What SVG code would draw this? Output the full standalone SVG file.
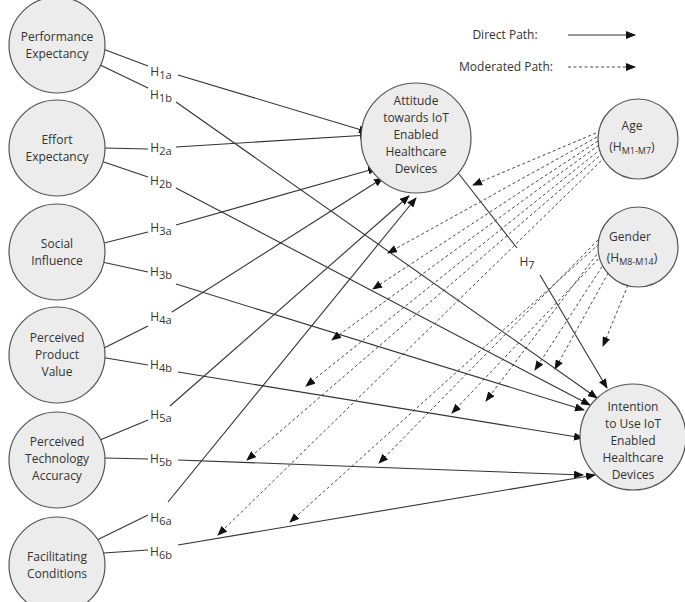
<svg xmlns="http://www.w3.org/2000/svg" width="685" height="602" viewBox="0 0 685 602">
<style>
.n{fill:#ececec;stroke:#555;stroke-width:1.2}
text{font-family:"Open Sans","Liberation Sans",sans-serif;font-size:12px;fill:#333;text-anchor:middle}
.l{font-size:11px}
.s{stroke:#333;stroke-width:1.1;fill:none}
.d{stroke:#333;stroke-width:0.9;fill:none;stroke-dasharray:3,2.5}
.sa{marker-end:url(#a)}
</style>
<defs><marker id="a" markerWidth="10" markerHeight="8" refX="9" refY="4" orient="auto" markerUnits="userSpaceOnUse"><path d="M0,0L10,4L0,8z" fill="#111"/></marker></defs>
<rect width="685" height="602" fill="#fff"/>
<g id="connectors">
<!-- direct -->
<path class="s" d="M103,49L148,66"/><path class="s sa" d="M178,75L368,132"/>
<path class="s" d="M96,63L148,88"/><path class="s sa" d="M176,102L597,398"/>
<path class="s" d="M104,148L148,149"/><path class="s sa" d="M176,147L369,135"/>
<path class="s" d="M98,160L148,177"/><path class="s sa" d="M176,188L590,405"/>
<path class="s" d="M104,243L148,232"/><path class="s sa" d="M176,225L377,168"/>
<path class="s" d="M102,262L148,272"/><path class="s sa" d="M176,284L584,410"/>
<path class="s" d="M100,350L148,326"/><path class="s sa" d="M172,312L383,178"/>
<path class="s" d="M100,357L148,365"/><path class="s sa" d="M178,372L583,438"/>
<path class="s" d="M100,440L148,420"/><path class="s sa" d="M170,406L409,196"/>
<path class="s" d="M105,458L148,459"/><path class="s sa" d="M178,460L583,475"/>
<path class="s" d="M97,540L148,515"/><path class="s sa" d="M168,502L416,198"/>
<path class="s" d="M104,553L148,550"/><path class="s sa" d="M178,545L595,475"/>
<path class="s" d="M455,169L517,248"/><path class="s sa" d="M540,275L607,388"/>
<path class="s sa" d="M568,35L635,35"/>
<path class="d sa" d="M568,67L635,67"/>
<!-- age -->
<path class="d sa" d="M596,133L473,185"/>
<path class="d sa" d="M597,137L388,253"/>
<path class="d sa" d="M598,141L373,289"/>
<path class="d sa" d="M599,145L332,340"/>
<path class="d sa" d="M601,149L306,386"/>
<path class="d sa" d="M603,153L247,460"/>
<path class="d sa" d="M605,157L218,535"/>
<!-- gender -->
<path class="d sa" d="M598,240L379,463"/>
<path class="d sa" d="M599,244L290,522"/>
<path class="d sa" d="M600,250L486,401"/>
<path class="d sa" d="M602,255L452,413"/>
<path class="d sa" d="M605,262L535,370"/>
<path class="d sa" d="M611,268L555,369"/>
<path class="d sa" d="M630,280L603,346"/>
</g>
<g id="labels">
<text x="505" y="39">Direct Path:</text>
<text x="506" y="71">Moderated Path:</text>
<text x="161" y="76">H<tspan class="l" dy="3">1a</tspan></text>
<text x="161" y="99">H<tspan class="l" dy="3">1b</tspan></text>
<text x="161" y="152">H<tspan class="l" dy="3">2a</tspan></text>
<text x="161" y="185">H<tspan class="l" dy="3">2b</tspan></text>
<text x="161" y="232">H<tspan class="l" dy="3">3a</tspan></text>
<text x="161" y="276">H<tspan class="l" dy="3">3b</tspan></text>
<text x="161" y="321">H<tspan class="l" dy="3">4a</tspan></text>
<text x="161" y="369">H<tspan class="l" dy="3">4b</tspan></text>
<text x="161" y="419">H<tspan class="l" dy="3">5a</tspan></text>
<text x="161" y="463">H<tspan class="l" dy="3">5b</tspan></text>
<text x="161" y="522">H<tspan class="l" dy="3">6a</tspan></text>
<text x="161" y="556">H<tspan class="l" dy="3">6b</tspan></text>
<text x="527" y="266">H<tspan class="l" dy="3">7</tspan></text>
</g>
<g id="pe"><circle class="n" cx="57" cy="45" r="48"/><text x="57" y="41">Performance</text><text x="57" y="58">Expectancy</text></g>
<g id="ee"><circle class="n" cx="57" cy="148" r="48"/><text x="57" y="144">Effort</text><text x="57" y="161">Expectancy</text></g>
<g id="si"><circle class="n" cx="57" cy="252" r="48"/><text x="57" y="248">Social</text><text x="57" y="265">Influence</text></g>
<g id="ppv"><circle class="n" cx="57" cy="355" r="48"/><text x="57" y="342">Perceived</text><text x="57" y="359">Product</text><text x="57" y="376">Value</text></g>
<g id="pta"><circle class="n" cx="57" cy="460" r="48"/><text x="57" y="446">Perceived</text><text x="57" y="463">Technology</text><text x="57" y="480">Accuracy</text></g>
<g id="fc"><circle class="n" cx="57" cy="565" r="48"/><text x="57" y="561">Facilitating</text><text x="57" y="578">Conditions</text></g>
<g id="att"><circle class="n" cx="416" cy="138" r="55"/><text x="416" y="105">Attitude</text><text x="416" y="122">towards IoT</text><text x="416" y="139">Enabled</text><text x="416" y="156">Healthcare</text><text x="416" y="173">Devices</text></g>
<g id="age"><circle class="n" cx="638" cy="139" r="40"/><text x="632" y="130">Age</text><text x="632" y="151">(H<tspan class="l" dy="3" style="font-size:9px">M1-M7</tspan><tspan dy="-3">)</tspan></text></g>
<g id="gender"><circle class="n" cx="638" cy="247" r="40"/><text x="630" y="241">Gender</text><text x="632" y="262">(H<tspan class="l" dy="3" style="font-size:9px">M8-M14</tspan><tspan dy="-3">)</tspan></text></g>
<g id="int"><circle class="n" cx="633" cy="437" r="53"/><text x="633" y="411">Intention</text><text x="633" y="428">to Use IoT</text><text x="633" y="445">Enabled</text><text x="633" y="462">Healthcare</text><text x="633" y="479">Devices</text></g>
</svg>
